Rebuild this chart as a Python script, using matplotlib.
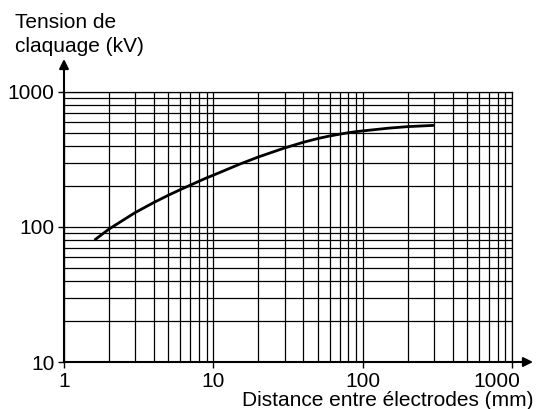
import matplotlib
matplotlib.use("Agg")
import matplotlib.pyplot as plt
import matplotlib.transforms as mtransforms

plt.rcParams['font.family'] = ['Liberation Sans', 'DejaVu Sans']

# tension de claquage en fonction de la distance entre électrodes
distance_mm = [1.6, 2, 3, 4, 5, 6, 7, 8, 9, 10, 15, 20, 30, 40, 50,
               60, 70, 80, 90, 100, 150, 200, 300]
tension_kv = [80, 96.5, 128, 152, 172, 189, 204, 218, 231, 242, 292, 330, 385,
              424, 452, 472, 487, 499, 508, 515, 540, 554, 566]

x_ticks = [1, 10, 100, 1000]
x_ticklabels = ['1', '10', '100', '1000']
y_ticks = [10, 100, 1000]
y_ticklabels = ['10', '100', '1000']

fig = plt.figure(figsize=(5.39, 4.09), dpi=100)
ax = fig.add_axes([64/539, 1 - 362/409, 448/539, 270/409])

ax.set_xscale('log')
ax.set_yscale('log')
ax.set_xlim(1, 1000)
ax.set_ylim(10, 1000)

# grille log complète (traits principaux et secondaires)
minor_x = [m * 10**k for k in range(0, 3) for m in range(2, 10)]
minor_y = [m * 10**k for k in range(1, 3) for m in range(2, 10)]
ax.set_xticks(x_ticks)
ax.set_xticklabels(x_ticklabels)
ax.set_xticks(minor_x, minor=True)
ax.set_yticks(y_ticks)
ax.set_yticklabels(y_ticklabels)
ax.set_yticks(minor_y, minor=True)
ax.xaxis.set_minor_formatter(plt.NullFormatter())
ax.yaxis.set_minor_formatter(plt.NullFormatter())
ax.grid(True, which='both', color='black', linewidth=0.9)

ax.tick_params(which='major', direction='out', length=4, width=1,
               labelsize=15, pad=3, colors='black')
ax.tick_params(which='minor', length=0)

for side in ['top', 'right']:
    ax.spines[side].set_linewidth(0.9)
for side in ['left', 'bottom']:
    ax.spines[side].set_linewidth(1.5)

# décale le dernier label pour laisser la place à la flèche
offset = mtransforms.ScaledTranslation(-15/100, 0, fig.dpi_scale_trans)
last = ax.get_xticklabels()[-1]
last.set_transform(last.get_transform() + offset)

ax.plot(distance_mm, tension_kv, color='black', linewidth=2,
        solid_capstyle='butt', solid_joinstyle='round')

# flèches au bout des axes
arrow = dict(arrowstyle='-|>', color='black', lw=1.5, mutation_scale=14,
             shrinkA=0, shrinkB=0)
ax.annotate('', xy=(0, 1 + 33/270), xytext=(0, 1), xycoords='axes fraction',
            arrowprops=arrow, annotation_clip=False)
ax.annotate('', xy=(1 + 21/448, 0), xytext=(1, 0), xycoords='axes fraction',
            arrowprops=arrow, annotation_clip=False)

fig.text(15/539, 1 - 28/409, 'Tension de', ha='left', va='baseline', fontsize=15)
fig.text(15/539, 1 - 52/409, 'claquage (kV)', ha='left', va='baseline', fontsize=15)
fig.text(533/539, 1 - 406/409, 'Distance entre électrodes (mm)', ha='right',
         va='baseline', fontsize=15)

fig.savefig('out.png', dpi=100)
